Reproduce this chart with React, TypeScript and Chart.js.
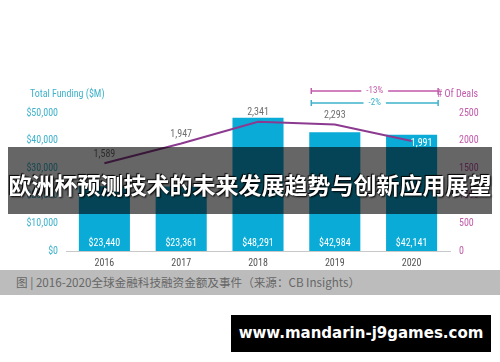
import React, { useEffect, useRef } from 'react';
import { Chart, registerables } from 'chart.js';

Chart.register(...registerables);

// ---- data ----
const years = ['2016', '2017', '2018', '2019', '2020'];
const funding = [23440, 23361, 48291, 42984, 42141];
const deals = [1589, 1947, 2341, 2293, 1991];
const fundingTickValues = [0, 10000, 20000, 30000, 40000, 50000];
const dealTickValues = [0, 500, 1000, 1500, 2000, 2500];
const fundingTitle = 'Total Funding ($M)';
const dealsTitle = '# Of Deals';
const dealsChange = '-13%';
const fundingChange = '-2%';
const bannerText = '欧洲杯预测技术的未来发展趋势与创新应用展望';
const captionText = '图 | 2016-2020全球金融科技融资金额及事件（来源：CB Insights）';
const urlText = 'www.mandarin-j9games.com';

// ---- styles ----
const FONT = '"Liberation Sans Narrow", "Roboto Condensed", Roboto, sans-serif';
const BAR = '#0aabd6';
const LINE = '#8c3a90';
const TEAL = '#3fb2ca';
const MAGENTA = '#c25aa9';
const GRAY = '#6f6f6f';

const fmt = (n: number) => String(n).replace(/\B(?=(\d{3})+(?!\d))/g, ',');

const overlayPlugin = {
  id: 'overlay',
  afterDatasetsDraw(chart: any) {
    const ctx = chart.ctx as CanvasRenderingContext2D;
    const y = chart.scales.y;
    const barMeta = chart.getDatasetMeta(0);
    const lineMeta = chart.getDatasetMeta(1);
    ctx.save();
    ctx.font = `10px ${FONT}`;
    ctx.textAlign = 'center';
    ctx.textBaseline = 'middle';
    // bar value labels
    ctx.fillStyle = '#ffffff';
    barMeta.data.forEach((bar: any, i: number) => {
      ctx.fillText('$' + fmt(funding[i]), bar.x, y.getPixelForValue(0) - 8);
    });
    // line value labels
    const last = lineMeta.data.length - 1;
    lineMeta.data.forEach((pt: any, i: number) => {
      if (i === last) {
        ctx.fillStyle = '#ffffff';
        ctx.fillText(fmt(deals[i]), pt.x + 10, pt.y + 2);
      } else {
        ctx.fillStyle = GRAY;
        ctx.fillText(fmt(deals[i]), pt.x, pt.y - 9);
      }
    });
    // axis titles
    ctx.textAlign = 'left';
    ctx.fillStyle = TEAL;
    ctx.fillText(fundingTitle, 30, 94);
    ctx.textAlign = 'right';
    ctx.fillStyle = MAGENTA;
    ctx.fillText(dealsTitle, 478, 94);
    // change brackets over 2019-2020
    const b3 = barMeta.data[3];
    const b4 = barMeta.data[4];
    const x1 = b3.x - b3.width / 2 + 2;
    const x2 = b4.x + b4.width / 2 + 1;
    const drawBracket = (yy: number, color: string, label: string) => {
      ctx.strokeStyle = color;
      ctx.fillStyle = color;
      ctx.lineWidth = 1.5;
      ctx.font = `9px ${FONT}`;
      const mid = (x1 + x2) / 2;
      const w = ctx.measureText(label).width / 2 + 5;
      ctx.beginPath();
      ctx.moveTo(x1, yy); ctx.lineTo(mid - w, yy);
      ctx.moveTo(mid + w, yy); ctx.lineTo(x2, yy);
      ctx.moveTo(x1, yy - 3); ctx.lineTo(x1, yy + 3);
      ctx.moveTo(x2, yy - 3); ctx.lineTo(x2, yy + 3);
      ctx.stroke();
      ctx.textAlign = 'center';
      ctx.fillText(label, mid, yy);
    };
    drawBracket(91, MAGENTA, dealsChange);
    drawBracket(103, TEAL, fundingChange);
    ctx.restore();
  },
};

function FundingChart() {
  const ref = useRef<HTMLCanvasElement | null>(null);
  useEffect(() => {
    if (!ref.current) return;
    const chart = new Chart(ref.current, {
      type: 'bar',
      data: {
        labels: years,
        datasets: [
          {
            type: 'bar',
            data: funding,
            backgroundColor: BAR,
            yAxisID: 'y',
            categoryPercentage: 1,
            barPercentage: 0.665,
            order: 1,
          } as any,
          {
            type: 'line',
            data: deals,
            borderColor: LINE,
            borderWidth: 2,
            pointRadius: 0,
            tension: 0,
            yAxisID: 'y1',
            order: 0,
          } as any,
        ],
      },
      options: {
        responsive: false,
        animation: false,
        devicePixelRatio: 1,
        layout: { padding: { top: 113, bottom: 0, left: 0, right: 0 } },
        plugins: { legend: { display: false }, tooltip: { enabled: false } },
        scales: {
          x: {
            grid: { display: false, drawTicks: false },
            border: { display: true, color: '#c8c8c8', width: 1 },
            ticks: { color: '#555', font: { family: FONT, size: 10 }, padding: 6 },
            afterFit: (s: any) => { s.height = 19; },
          },
          y: {
            position: 'left',
            min: 0,
            max: 50000,
            grid: { display: false, drawTicks: false },
            border: { display: false },
            afterBuildTicks: (s: any) => { s.ticks = fundingTickValues.map((v) => ({ value: v })); },
            ticks: {
              color: TEAL,
              font: { family: FONT, size: 10 },
              padding: 8,
              callback: (v: any) => '$' + fmt(Number(v)),
            },
            afterFit: (s: any) => { s.width = 66; },
          },
          y1: {
            position: 'right',
            min: 0,
            max: 2500,
            grid: { display: false, drawTicks: false },
            border: { display: false },
            afterBuildTicks: (s: any) => { s.ticks = dealTickValues.map((v) => ({ value: v })); },
            ticks: {
              color: MAGENTA,
              font: { family: FONT, size: 10 },
              padding: 9,
              callback: (v: any) => String(v),
            },
            afterFit: (s: any) => { s.width = 50; },
          },
        },
      } as any,
      plugins: [overlayPlugin],
    });
    return () => chart.destroy();
  }, []);
  return <canvas ref={ref} width={500} height={270} style={{ width: 500, height: 270, display: 'block' }} />;
}

export default function App() {
  return (
    <div style={{ position: 'fixed', left: 0, top: 0, width: 500, height: 362, background: '#fff', overflow: 'hidden' }}>
      <div style={{ position: 'absolute', left: 0, top: 0, width: 500, height: 270 }}>
        <FundingChart />
      </div>
      <div
        style={{
          position: 'absolute', left: 8, top: 147, width: 484, height: 67,
          background: 'rgba(0,0,0,0.6)',
        }}
      />
      <div
        style={{
          position: 'absolute', left: 0, top: 171, width: 500, height: 26, lineHeight: '26px',
          textAlign: 'center', whiteSpace: 'nowrap', color: '#fff', fontWeight: 'bold',
          fontSize: 23, fontFamily: '"Noto Sans CJK SC", sans-serif',
          textShadow: '1px 1px 2px #000, -1px -1px 1px #000',
        }}
      >
        {bannerText}
      </div>
      <div
        style={{
          position: 'absolute', left: 0, top: 270, width: 500, height: 25, background: '#bcbcbc',
          lineHeight: '25px', fontSize: 11.6, color: '#666', fontFamily: '"Noto Sans CJK SC", sans-serif',
          whiteSpace: 'nowrap', paddingLeft: 16, boxSizing: 'border-box',
        }}
      >
        {captionText}
      </div>
      <div
        style={{
          position: 'absolute', left: 231, top: 315, width: 260, height: 37, background: '#000',
          color: '#fff', fontWeight: 'bold', fontSize: 15, lineHeight: '37px', textAlign: 'center',
          fontFamily: '"DejaVu Sans", Verdana, sans-serif', whiteSpace: 'nowrap',
        }}
      >
        {urlText}
      </div>
    </div>
  );
}
